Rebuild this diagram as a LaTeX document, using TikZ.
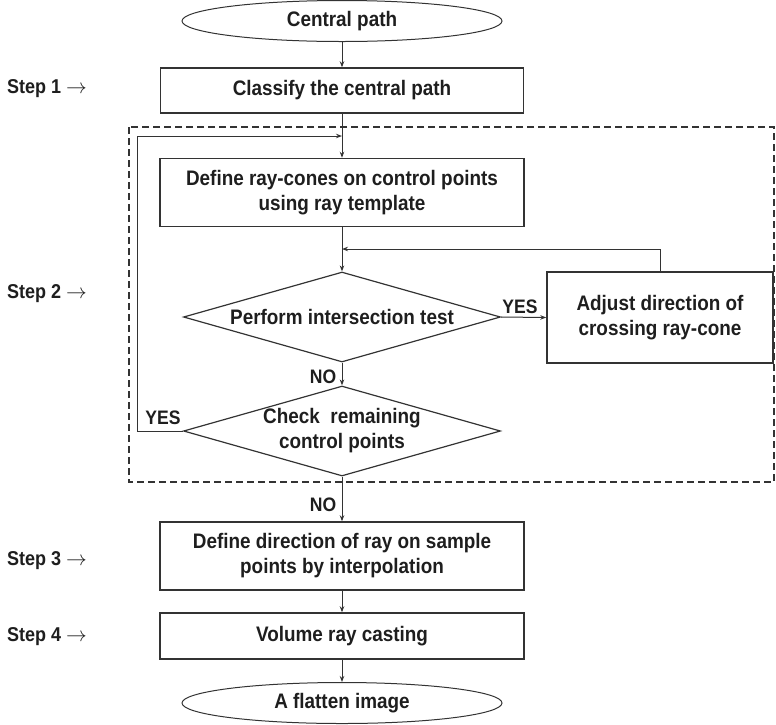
\documentclass[tikz,border=0pt]{standalone}
\usepackage{fontspec}
\setmainfont{Liberation Sans}[FakeStretch=0.9]
\usetikzlibrary{shapes.geometric,arrows.meta}
\definecolor{ln}{HTML}{333333}
\definecolor{tx}{HTML}{1E1E1E}
\begin{document}
\begin{tikzpicture}[x=1pt,y=-1pt,
  font=\fontsize{21}{25}\selectfont\bfseries, text=tx,
  boxnode/.style={draw=ln, line width=1.5pt, rectangle, inner sep=0pt, align=center},
  ovalnode/.style={draw=ln, line width=1pt, ellipse, inner sep=0pt, minimum width=320pt, minimum height=41pt},
  decnode/.style={draw=ln, line width=1.2pt, diamond, inner sep=0pt, minimum width=317pt, minimum height=90pt},
  arr/.style={draw=ln, line width=1pt, -{Stealth[length=6pt,width=4.5pt]}},
  lab/.style={inner sep=0pt, font=\fontsize{19.5}{22}\selectfont\bfseries},
  steplab/.style={inner sep=0pt, anchor=west, font=\fontsize{20}{22}\selectfont\bfseries}
]
\useasboundingbox (0,0) rectangle (776,724);

% frame of step 2
\draw[ln, line width=2pt, dash pattern=on 7pt off 4pt] (129,127) rectangle (774,482);

\node[ovalnode] (start) at (342,21) {Central path};
\node[boxnode, minimum width=363pt, minimum height=45pt] (classify) at (342,90.5) {Classify the central path};
\node[boxnode, minimum width=364pt, minimum height=68pt] (define) at (342,192.5) {Define ray-cones on control points\\using ray template};
\node[decnode, label={[align=center]center:Perform intersection test}] (perform) at (342,317) {};
\node[boxnode, minimum width=226pt, minimum height=91pt] (adjust) at (660,317.5) {Adjust direction of\\crossing ray-cone};
\node[decnode, label={[align=center]center:Check\ \ remaining\\control points}] (check) at (342,431) {};
\node[boxnode, minimum width=364pt, minimum height=68pt] (dirbox) at (342,556) {Define direction of ray on sample\\points by interpolation};
\node[boxnode, minimum width=364pt, minimum height=46pt] (volume) at (342,636) {Volume ray casting};
\node[ovalnode] (finish) at (342,703) {A flatten image};

% step labels
\node[steplab] (s1) at (7,89) {Step 1 \mdseries$\rightarrow$};
\node[steplab] (s2) at (7,294) {Step 2 \mdseries$\rightarrow$};
\node[steplab] (s3) at (7,561) {Step 3 \mdseries$\rightarrow$};
\node[steplab] (s4) at (7,637) {Step 4 \mdseries$\rightarrow$};

% connectors
\coordinate (lj) at (342,136);
\coordinate (lc) at (137,431);
\coordinate (rj) at (342,249);

\draw[arr] (start) -- (classify);
\draw[arr] (classify) -- (define);
\draw[arr] (define) -- (perform.north);
\draw[arr] (perform.east) -- (adjust.west);
\draw[arr] (adjust.north) |- (rj);
\draw[arr] (perform.south) -- (check.north);
\draw[arr] (check.west) -- (lc) |- (lj);
\draw[arr] (check.south) -- (dirbox.north);
\draw[arr] (dirbox) -- (volume);
\draw[arr] (volume) -- (finish);

% branch labels
\node[lab] (yes1) at (520,307) {YES};
\node[lab] (no1) at (323,377) {NO};
\node[lab] (yes2) at (163,418) {YES};
\node[lab] (no2) at (323,505) {NO};
\end{tikzpicture}
\end{document}
